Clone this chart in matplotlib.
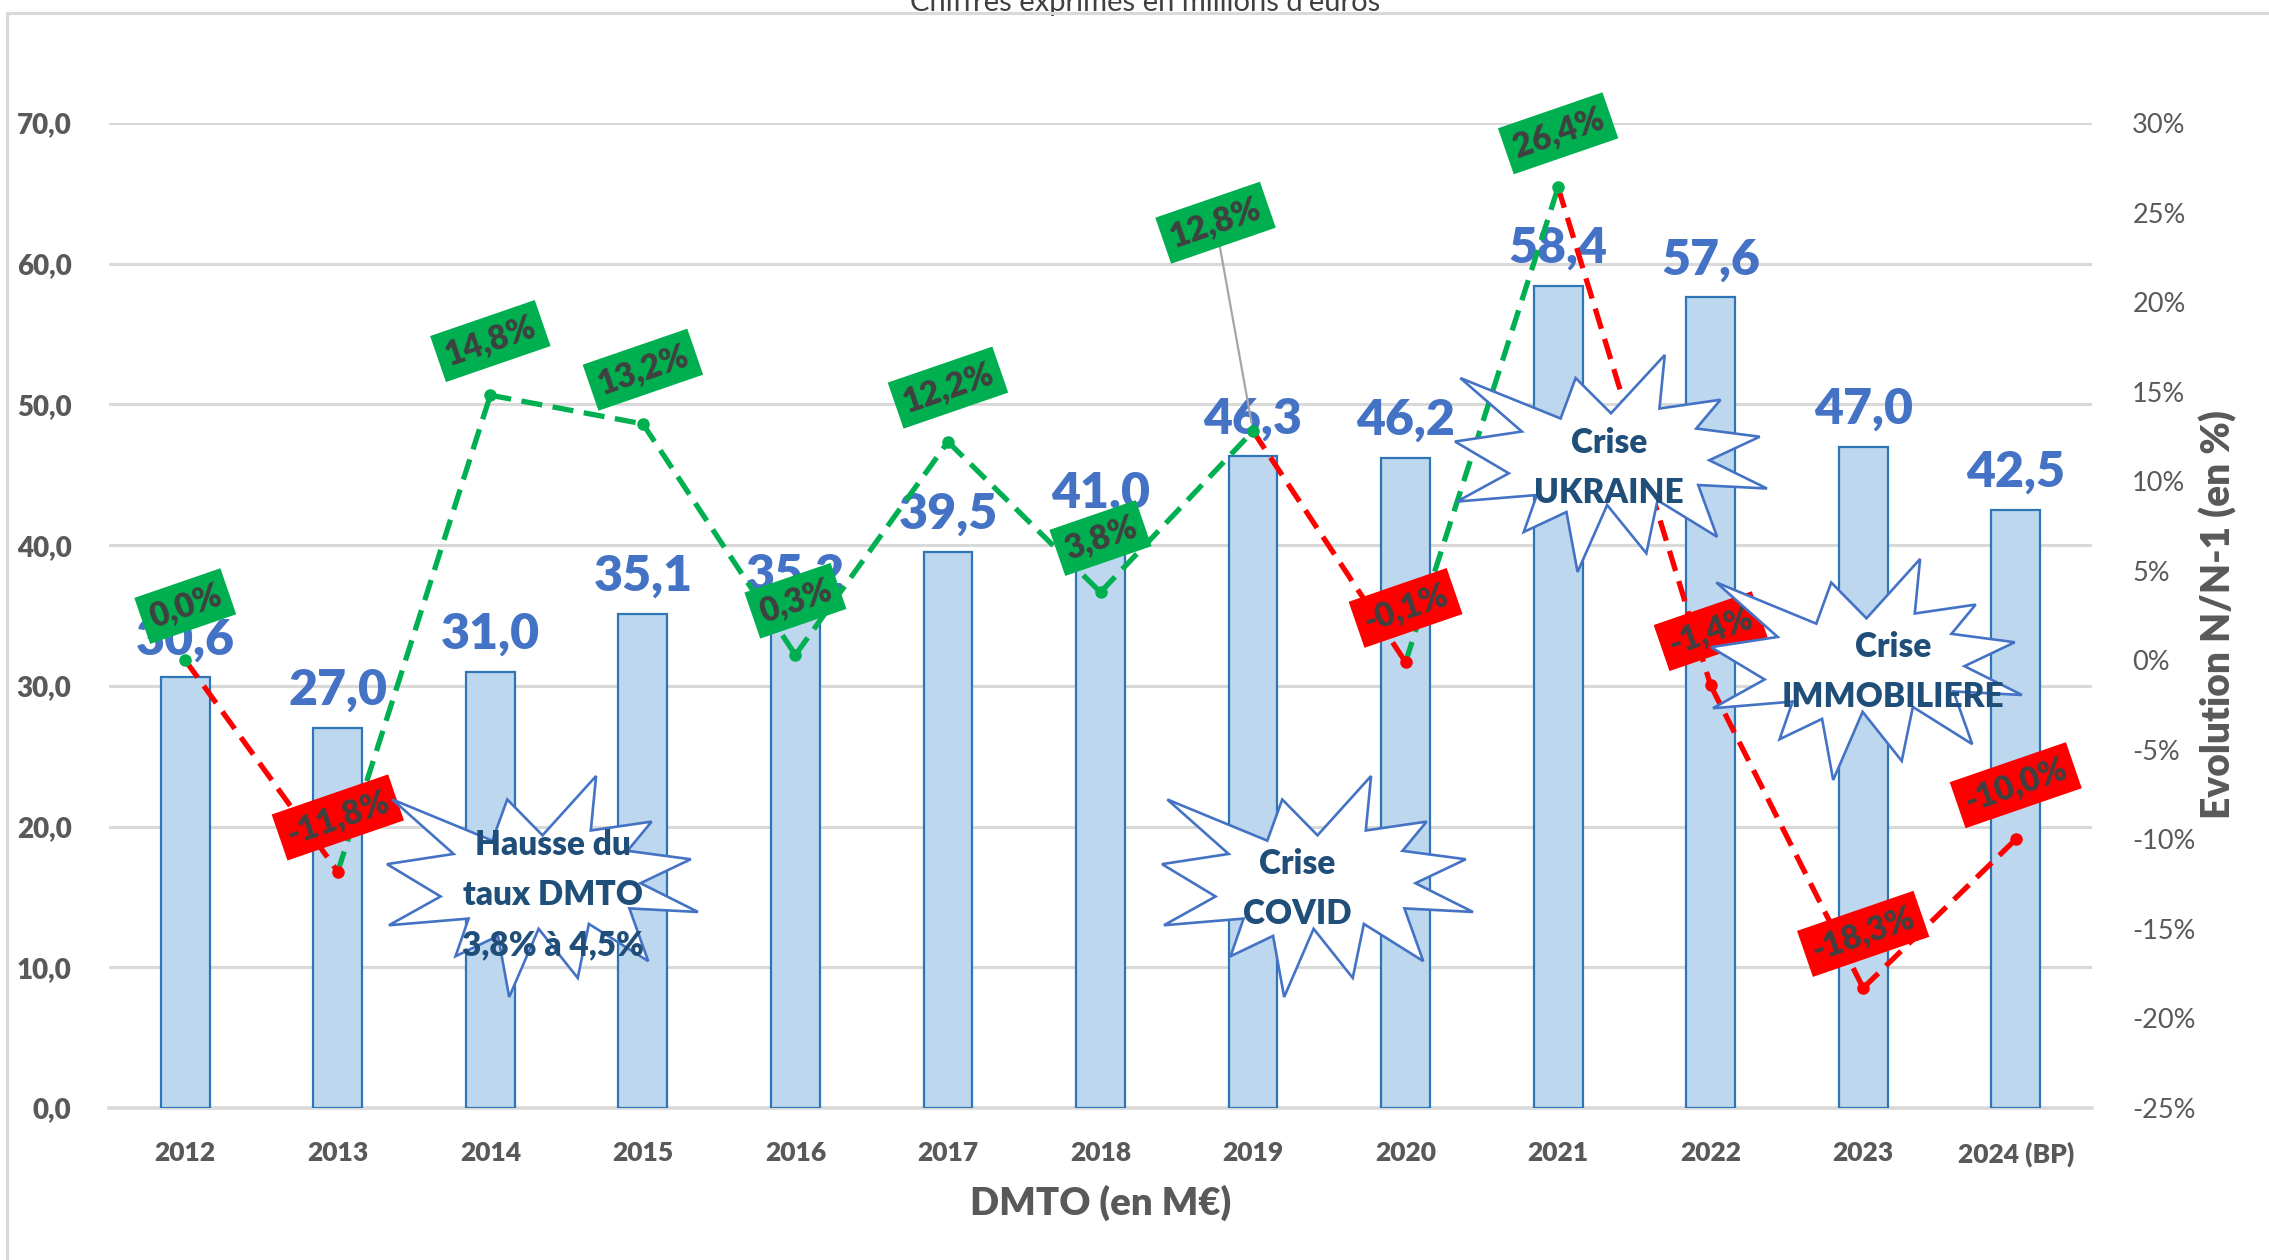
import matplotlib
matplotlib.use("Agg")
import matplotlib.pyplot as plt
from matplotlib.patches import Polygon, Rectangle

# ---------------- data ----------------
years = ["2012", "2013", "2014", "2015", "2016", "2017", "2018", "2019",
         "2020", "2021", "2022", "2023", "2024 (BP)"]
dmto = [30.6, 27.0, 31.0, 35.1, 35.2, 39.5, 41.0, 46.3, 46.2, 58.4, 57.6, 47.0, 42.5]
evolution = [0.0, -11.8, 14.8, 13.2, 0.3, 12.2, 3.8, 12.8, -0.1, 26.4, -1.4, -18.3, -10.0]
left_ticks = [0, 10, 20, 30, 40, 50, 60, 70]
right_ticks = [-25, -20, -15, -10, -5, 0, 5, 10, 15, 20, 25, 30]
title = "Chiffres exprimés en millions d'euros"
xlabel = "DMTO (en M€)"
ylabel_right = "Evolution N/N-1 (en %)"
annotations = [
    "Hausse du\ntaux DMTO\n3,8% à 4,5%",
    "Crise\nCOVID",
    "Crise\nUKRAINE",
    "Crise\nIMMOBILIERE",
]

# ---------------- style ----------------
plt.rcParams["font.family"] = ["Lato", "DejaVu Sans"]
W, H = 2269, 1260
GREEN = "#00B050"
RED = "#FF0000"
GRAY = "#595959"
DARK = "#404040"
BLUE_TXT = "#4472C4"
STAR_TXT = "#1F4E79"

fig = plt.figure(figsize=(W / 100, H / 100), dpi=100)
ax = fig.add_axes([109 / W, 1 - 1108 / H, (2092 - 109) / W, (1108 - 123) / H])
ax2 = ax.twinx()

x = list(range(len(years)))

# bars
ax.bar(x, dmto, width=0.32, color="#BDD7EE", edgecolor="#2E75B6", linewidth=1.6, zorder=2)
ax.set_xlim(-0.5, len(years) - 0.5)
ax.set_ylim(0, 70)
ax.set_yticks(left_ticks)
ax.set_yticklabels([f"{t:.1f}".replace(".", ",") for t in left_ticks],
                   fontsize=20, fontweight="heavy", color=GRAY)
ax.set_xticks(x)
ax.set_xticklabels(years, fontsize=19, fontweight="heavy", color=GRAY)
ax.tick_params(axis="both", length=0)
ax.tick_params(axis="y", pad=27)
ax.tick_params(axis="x", pad=24)
ax.yaxis.grid(True, color="#D9D9D9", linewidth=2.2, zorder=0)
ax.set_axisbelow(True)
for s in ax.spines.values():
    s.set_visible(False)
ax.axhline(0, color="#D9D9D9", linewidth=2.6, clip_on=False, zorder=1)

for xi, v in zip(x, dmto):
    ax.annotate(f"{v:.1f}".replace(".", ","), xy=(xi, v), xytext=(0, 11),
                textcoords="offset points", ha="center", va="bottom",
                fontsize=36, fontweight="heavy", color=BLUE_TXT, zorder=3)

# evolution line
ax2.set_ylim(-25, 30)
ax2.set_yticks(right_ticks)
ax2.set_yticklabels([f"{t}%" for t in right_ticks], fontsize=19.5, color=GRAY)
ax2.tick_params(axis="y", length=0, pad=29)
for s in ax2.spines.values():
    s.set_visible(False)

for i in range(len(x) - 1):
    c = GREEN if evolution[i + 1] >= 0 else RED
    ax2.plot([x[i], x[i + 1]], [evolution[i], evolution[i + 1]], color=c,
             linewidth=3.8, linestyle=(0, (4, 2)), dash_capstyle="butt", zorder=3)
for xi, v in zip(x, evolution):
    ax2.plot([xi], [v], marker="o", markersize=8, color=GREEN if v >= 0 else RED,
             linestyle="none", zorder=4)

for xi, v in zip(x, evolution):
    c = GREEN if v >= 0 else RED
    txt = f"{v:.1f}%".replace(".", ",")
    kw = dict(ha="center", va="center", rotation=19, fontsize=24,
              fontweight="heavy", color=DARK, zorder=6,
              bbox=dict(boxstyle="square,pad=0.25", fc=c, ec="none"))
    if xi == 7:
        ax2.annotate(txt, xy=(xi, v), xytext=(-27, 150), textcoords="offset points",
                     arrowprops=dict(arrowstyle="-", color="#A6A6A6", lw=1.6,
                                     shrinkA=0, shrinkB=6), **kw)
    else:
        ax2.annotate(txt, xy=(xi, v), xytext=(0, 39), textcoords="offset points", **kw)

# axis titles
fig.text(1101 / W, 1 - 1203 / H, xlabel, ha="center", va="center",
         fontsize=27.5, fontweight="heavy", color=GRAY)
fig.text(2218 / W, 1 - 615 / H, ylabel_right, ha="center", va="center",
         rotation=90, fontsize=28, fontweight="heavy", color=GRAY)

# cropped title and chart border
fig.text(1145 / W, 1 - 11 / H, title, ha="center", va="baseline", fontsize=21,
         color=DARK, family=["Liberation Sans Narrow", "Lato", "DejaVu Sans"], zorder=1)
fig.add_artist(Rectangle((7 / W, -0.2), 1.2, (1 - 13 / H) + 0.2, transform=fig.transFigure,
                         fill=False, ec="#D9D9D9", lw=2.2, zorder=2))

# explosion shapes (OOXML irregularSeal1 geometry)
SEAL = [(10800, 5800), (14522, 0), (14155, 5325), (18380, 4457), (16702, 7315),
        (21097, 8137), (17607, 10475), (21600, 13290), (16837, 12942), (18145, 18095),
        (14020, 14457), (13247, 19737), (10532, 14935), (8485, 21600), (7715, 15627),
        (4762, 17617), (5667, 13937), (135, 14587), (3722, 11775), (0, 8615),
        (4627, 7617), (370, 2295), (7312, 6320), (8352, 2295)]


def star(x0, y0, x1, y1, text, tx, ty, ls):
    pts = [((x0 + px / 21600 * (x1 - x0)) / W, 1 - (y0 + py / 21600 * (y1 - y0)) / H)
           for px, py in SEAL]
    fig.add_artist(Polygon(pts, closed=True, fc="white", ec="#4472C4", lw=1.9,
                           transform=fig.transFigure, zorder=5))
    fig.text(tx / W, 1 - ty / H, text, ha="center", va="center", fontsize=24,
             fontweight="heavy", color=STAR_TXT, linespacing=ls, zorder=6)


star(387, 776, 698, 997, annotations[0], 553, 895, 1.7)
star(1162, 776, 1473, 997, annotations[1], 1297, 889, 1.7)
star(1455, 355, 1767, 572, annotations[2], 1609, 468, 1.7)
star(1711, 559, 2022, 780, annotations[3], 1893, 672, 1.7)

fig.savefig("out.png", dpi=100)
